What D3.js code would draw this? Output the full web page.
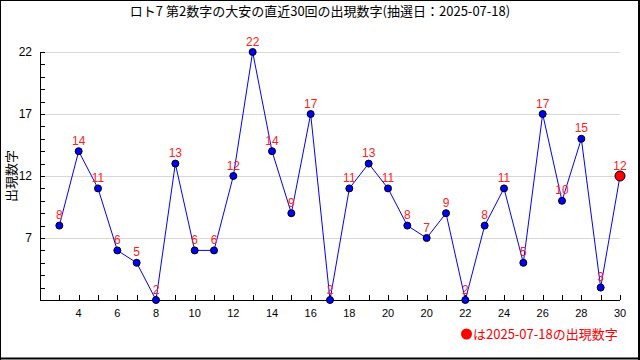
<!DOCTYPE html>
<html><head><meta charset="utf-8">
<script src="https://cdn.jsdelivr.net/npm/d3@7/dist/d3.min.js"></script>
<style>
html,body{margin:0;padding:0;background:#fff;}
svg{display:block;}
</style></head>
<body><svg id="c" width="640" height="360"></svg>
<script>
const title = "ロト7 第2数字の大安の直近30回の出現数字(抽選日：2025-07-18)";
const yLabel = "出現数字";
const legendText = "は2025-07-18の出現数字";
const values = [8,14,11,6,5,2,13,6,6,12,22,14,9,17,2,11,13,11,8,7,9,2,8,11,5,17,10,15,3,12];
// tick labels shown at every other position (odd indices)
const xTickLabels = ["4","6","8","10","12","14","16","18","20","20","22","24","26","28","30"];
const yTickLabels = [7,12,17,22];
const yDomain = [2,22];

const svg = d3.select("#c");
const font = "'Liberation Sans', Arial, sans-serif";
const cjk = "'Noto Sans CJK JP', sans-serif";

// frame
svg.append("rect").attr("x",0).attr("y",0).attr("width",640).attr("height",360).attr("fill","#fff");
svg.append("line").attr("x1",0).attr("x2",640).attr("y1",0.5).attr("y2",0.5).attr("stroke","#000");
svg.append("line").attr("x1",0.5).attr("x2",0.5).attr("y1",0).attr("y2",360).attr("stroke","#000");
svg.append("line").attr("x1",639).attr("x2",639).attr("y1",0).attr("y2",360).attr("stroke","#000").attr("stroke-width",2);
svg.append("line").attr("x1",0).attr("x2",640).attr("y1",358.5).attr("y2",358.5).attr("stroke","#000").attr("stroke-width",2);

const x = d3.scaleLinear().domain([-1, values.length-1]).range([40, 620]);
const y = d3.scaleLinear().domain(yDomain).range([300, 52]);

// gridlines
svg.append("g").selectAll("line").data(yTickLabels).join("line")
  .attr("x1",45).attr("x2",620)
  .attr("y1",d=>Math.round(y(d))+0.5).attr("y2",d=>Math.round(y(d))+0.5)
  .attr("stroke","#d8d8d8");

// y axis
const yMinor = d3.range(yDomain[0], yDomain[1]+1);
const gy = svg.append("g");
gy.append("line").attr("x1",40.5).attr("x2",40.5).attr("y1",y(yDomain[1])).attr("y2",300).attr("stroke","#000");
gy.selectAll("line.t").data(yMinor).join("line").attr("class","t")
  .attr("x1",40).attr("x2",45)
  .attr("y1",d=>Math.round(y(d))+0.5).attr("y2",d=>Math.round(y(d))+0.5).attr("stroke","#000");
gy.selectAll("text").data(yTickLabels).join("text")
  .attr("x",32).attr("y",d=>y(d)+4)
  .attr("text-anchor","end").attr("font-family",font).attr("font-size",12).attr("fill","#000")
  .text(d=>d);

// x axis
const idx = d3.range(values.length);
const gx = svg.append("g");
gx.append("line").attr("x1",40).attr("x2",620).attr("y1",300.5).attr("y2",300.5).attr("stroke","#000");
gx.selectAll("line.t").data(idx).join("line").attr("class","t")
  .attr("x1",d=>Math.round(x(d))+0.5).attr("x2",d=>Math.round(x(d))+0.5)
  .attr("y1",295).attr("y2",300).attr("stroke","#000");
gx.selectAll("text").data(xTickLabels).join("text")
  .attr("x",(d,i)=>x(2*i+1)).attr("y",317)
  .attr("text-anchor","middle").attr("font-family",font).attr("font-size",11).attr("fill","#000")
  .text(d=>d);

// line
svg.append("path").datum(values)
  .attr("d", d3.line().x((d,i)=>x(i)).y(d=>y(d)))
  .attr("fill","none").attr("stroke","#0000ff").attr("stroke-width",1);

// points
const last = values.length-1;
svg.append("g").selectAll("circle").data(values).join("circle")
  .attr("cx",(d,i)=>x(i)).attr("cy",d=>y(d))
  .attr("r",(d,i)=>i===last?5:3.5)
  .attr("fill",(d,i)=>i===last?"#ff0000":"#0000ff")
  .attr("stroke","#000").attr("stroke-width",1);

// value labels
svg.append("g").selectAll("text").data(values).join("text")
  .attr("x",(d,i)=>x(i)).attr("y",d=>y(d)-6.5)
  .attr("text-anchor","middle").attr("font-family",font).attr("font-size",12).attr("fill","#ff2020")
  .text(d=>d);

// title
svg.append("text").attr("x",320).attr("y",16).attr("text-anchor","middle")
  .attr("font-family",cjk).attr("font-size",13).attr("fill","#000").text(title);

// y label
svg.append("text").attr("transform","translate(16,176) rotate(-90)")
  .attr("text-anchor","middle").attr("font-family",cjk).attr("font-size",13).attr("fill","#000").text(yLabel);

// legend
svg.append("circle").attr("cx",466.5).attr("cy",334).attr("r",5.5).attr("fill","#ff0000");
svg.append("text").attr("x",473).attr("y",339).attr("font-family",cjk).attr("font-size",13)
  .attr("fill","#ff0000").text(legendText);
</script>
</body></html>
